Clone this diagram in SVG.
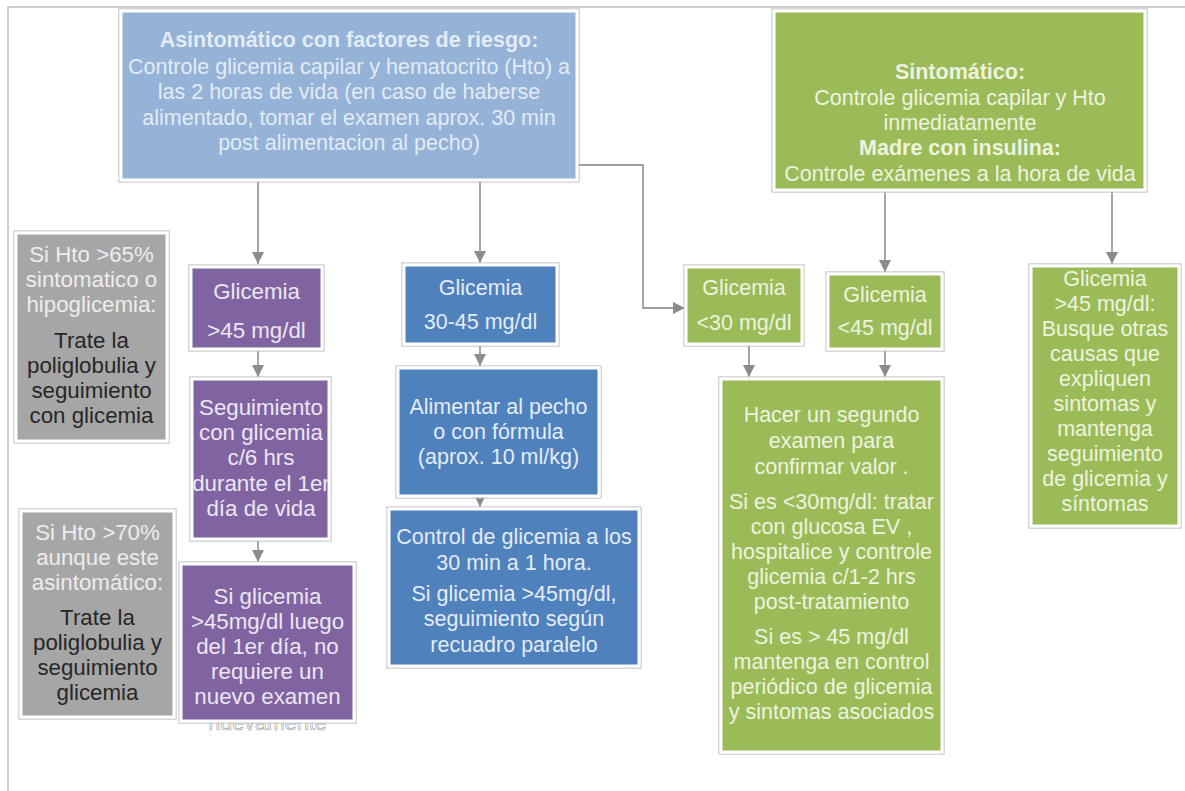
<svg xmlns="http://www.w3.org/2000/svg" width="1185" height="791" viewBox="0 0 1185 791">
<style>
.box{stroke:#ffffff;stroke-width:3}
.out{fill:none;stroke:#bfbfbf;stroke-width:1.2}
.t{font-family:"Liberation Sans",Arial,sans-serif;font-size:21.5px;text-anchor:middle}
.b{font-weight:bold}
.wb{fill:#e3ebf5}
.wg{fill:#eef3df}
.wp{fill:#ece6f2;font-size:22.3px}
.wd{fill:#e4ecf6}
.wgr{fill:#ededed;font-size:22.3px}
.dk{fill:#262626;font-size:22.3px}
.c{fill:none;stroke:#808080;stroke-width:1.4}
</style>
<defs>
<marker id="ah" viewBox="0 0 10 10" refX="10" refY="5" markerWidth="14" markerHeight="12" markerUnits="userSpaceOnUse" orient="auto">
<path d="M0,0 L10,5 L0,10 z" fill="#8c8c8c"/>
</marker>
</defs>
<rect width="1185" height="791" fill="#ffffff"/>
<g id="frame">
<path d="M8,791 V7 H1185" fill="none" stroke="#bfbfbf" stroke-width="1.5"/>
</g>
<g id="connectors">
<path class="c" d="M258,181 V264" marker-end="url(#ah)"/>
<path class="c" d="M480,181 V263" marker-end="url(#ah)"/>
<path class="c" d="M578,165 H643 V308 H685" marker-end="url(#ah)"/>
<path class="c" d="M885,191 V272" marker-end="url(#ah)"/>
<path class="c" d="M1112,191 V264" marker-end="url(#ah)"/>
<path class="c" d="M258,350 V377" marker-end="url(#ah)"/>
<path class="c" d="M258,540 V562" marker-end="url(#ah)"/>
<path class="c" d="M480,345 V366" marker-end="url(#ah)"/>
<path class="c" d="M480,497 V507" marker-end="url(#ah)"/>
<path class="c" d="M749,345 V377" marker-end="url(#ah)"/>
<path class="c" d="M885,350 V377" marker-end="url(#ah)"/>
</g>
<g id="nodeA">
<rect class="out" x="119" y="9" width="460" height="173"/>
<rect class="box" x="121" y="11" width="456" height="169" fill="#95b3d7"/>
<text class="t wb b" x="349" y="47">Asintomático con factores de riesgo:</text>
<text class="t wb" x="349" y="74">Controle glicemia  capilar y hematocrito (Hto) a</text>
<text class="t wb" x="349" y="99">las 2 horas de vida  (en caso de haberse</text>
<text class="t wb" x="349" y="125">alimentado, tomar el examen aprox. 30  min</text>
<text class="t wb" x="349" y="150">post alimentacion al pecho)</text>
</g>
<g id="nodeB">
<rect class="out" x="772" y="9" width="375" height="183"/>
<rect class="box" x="774" y="11" width="371" height="179" fill="#9bbb59"/>
<text class="t wg b" x="960" y="79">Sintomático:</text>
<text class="t wg" x="960" y="105">Controle glicemia  capilar y Hto</text>
<text class="t wg" x="960" y="130">inmediatamente</text>
<text class="t wg b" x="960" y="155">Madre con insulina:</text>
<text class="t wg" x="960" y="181">Controle exámenes a la hora de vida</text>
</g>
<g id="grey1">
<rect class="out" x="14" y="231" width="155" height="212"/>
<rect class="box" x="16" y="233" width="151" height="208" fill="#a6a6a6"/>
<text class="t wgr" x="91.5" y="262">Si Hto &gt;65%</text>
<text class="t wgr" x="91.5" y="287">sintomatico o</text>
<text class="t wgr" x="91.5" y="312">hipoglicemia:</text>
<text class="t dk" x="91.5" y="348">Trate la</text>
<text class="t dk" x="91.5" y="373">poliglobulia y</text>
<text class="t dk" x="91.5" y="398">seguimiento</text>
<text class="t dk" x="91.5" y="423">con glicemia</text>
</g>
<g id="grey2">
<rect class="out" x="19" y="509" width="157" height="210"/>
<rect class="box" x="21" y="511" width="153" height="206" fill="#a6a6a6"/>
<text class="t wgr" x="97.5" y="540">Si Hto &gt;70%</text>
<text class="t wgr" x="97.5" y="565">aunque este</text>
<text class="t wgr" x="97.5" y="590">asintomático:</text>
<text class="t dk" x="97.5" y="625">Trate la</text>
<text class="t dk" x="97.5" y="650">poliglobulia y</text>
<text class="t dk" x="97.5" y="675">seguimiento</text>
<text class="t dk" x="97.5" y="700">glicemia</text>
</g>
<g id="purple1">
<rect class="out" x="189" y="265" width="135" height="86"/>
<rect class="box" x="191" y="267" width="131" height="82" fill="#8064a2"/>
<text class="t wp" x="256.5" y="299">Glicemia</text>
<text class="t wp" x="256.5" y="338">&gt;45 mg/dl</text>
</g>
<g id="purple2">
<rect class="out" x="190" y="377" width="141" height="164"/>
<rect class="box" x="192" y="379" width="137" height="160" fill="#8064a2"/>
<text class="t wp" x="261" y="415">Seguimiento</text>
<text class="t wp" x="261" y="440">con glicemia</text>
<text class="t wp" x="261" y="465">c/6 hrs</text>
<text class="t wp" x="261" y="491">durante el 1er</text>
<text class="t wp" x="261" y="516">día de vida</text>
</g>
<g id="purple3">
<text class="t" x="267.5" y="730" fill="#ffffff" stroke="#a8a8a8" stroke-width="0.7" font-size="20">nuevamente</text>
<rect class="out" x="179" y="562" width="177" height="161"/>
<rect class="box" x="181" y="564" width="173" height="157" fill="#8064a2"/>
<text class="t wp" x="267.5" y="604">Si glicemia</text>
<text class="t wp" x="267.5" y="629">&gt;45mg/dl luego</text>
<text class="t wp" x="267.5" y="654">del 1er día, no</text>
<text class="t wp" x="267.5" y="679">requiere un</text>
<text class="t wp" x="267.5" y="704">nuevo examen</text>
</g>
<g id="blue1">
<rect class="out" x="402" y="263" width="157" height="83"/>
<rect class="box" x="404" y="265" width="153" height="79" fill="#4f81bd"/>
<text class="t wd" x="480.5" y="295">Glicemia</text>
<text class="t wd" x="480.5" y="329">30-45 mg/dl</text>
</g>
<g id="blue2">
<rect class="out" x="396" y="366" width="205" height="132"/>
<rect class="box" x="398" y="368" width="201" height="128" fill="#4f81bd"/>
<text class="t wd" x="498.5" y="414">Alimentar al pecho</text>
<text class="t wd" x="498.5" y="439">o con fórmula</text>
<text class="t wd" x="498.5" y="464">(aprox. 10 ml/kg)</text>
</g>
<g id="blue3">
<rect class="out" x="387" y="507" width="254" height="161"/>
<rect class="box" x="389" y="509" width="250" height="157" fill="#4f81bd"/>
<text class="t wd" x="514" y="544">Control de glicemia  a los</text>
<text class="t wd" x="514" y="570">30 min a 1 hora.</text>
<text class="t wd" x="514" y="601">Si glicemia &gt;45mg/dl,</text>
<text class="t wd" x="514" y="626">seguimiento  según</text>
<text class="t wd" x="514" y="652">recuadro paralelo</text>
</g>
<g id="green30">
<rect class="out" x="684" y="265" width="120" height="81"/>
<rect class="box" x="686" y="267" width="116" height="77" fill="#9bbb59"/>
<text class="t wg" x="744" y="295">Glicemia</text>
<text class="t wg" x="744" y="330">&lt;30 mg/dl</text>
</g>
<g id="green45">
<rect class="out" x="826" y="272" width="118" height="79"/>
<rect class="box" x="828" y="274" width="114" height="75" fill="#9bbb59"/>
<text class="t wg" x="885" y="302">Glicemia</text>
<text class="t wg" x="885" y="335">&lt;45 mg/dl</text>
</g>
<g id="greenBig">
<rect class="out" x="719" y="377" width="225" height="377"/>
<rect class="box" x="721" y="379" width="221" height="373" fill="#9bbb59"/>
<text class="t wg" x="831.5" y="422">Hacer un segundo</text>
<text class="t wg" x="831.5" y="448">examen para</text>
<text class="t wg" x="831.5" y="474">confirmar valor .</text>
<text class="t wg" x="831.5" y="509">Si es &lt;30mg/dl: tratar</text>
<text class="t wg" x="831.5" y="534">con glucosa EV ,</text>
<text class="t wg" x="831.5" y="559">hospitalice y controle</text>
<text class="t wg" x="831.5" y="584">glicemia  c/1-2 hrs</text>
<text class="t wg" x="831.5" y="609">post-tratamiento</text>
<text class="t wg" x="831.5" y="644">Si es &gt; 45 mg/dl</text>
<text class="t wg" x="831.5" y="669">mantenga en  control</text>
<text class="t wg" x="831.5" y="694">periódico de  glicemia</text>
<text class="t wg" x="831.5" y="719">y sintomas asociados</text>
</g>
<g id="greenRight">
<rect class="out" x="1029" y="264" width="152" height="264"/>
<rect class="box" x="1031" y="266" width="148" height="260" fill="#9bbb59"/>
<text class="t wg" x="1105" y="286">Glicemia</text>
<text class="t wg" x="1105" y="311">&gt;45 mg/dl:</text>
<text class="t wg" x="1105" y="336">Busque otras</text>
<text class="t wg" x="1105" y="361">causas que</text>
<text class="t wg" x="1105" y="386">expliquen</text>
<text class="t wg" x="1105" y="411">sintomas y</text>
<text class="t wg" x="1105" y="436">mantenga</text>
<text class="t wg" x="1105" y="461">seguimiento</text>
<text class="t wg" x="1105" y="486">de glicemia  y</text>
<text class="t wg" x="1105" y="511">síntomas</text>
</g>
</svg>
